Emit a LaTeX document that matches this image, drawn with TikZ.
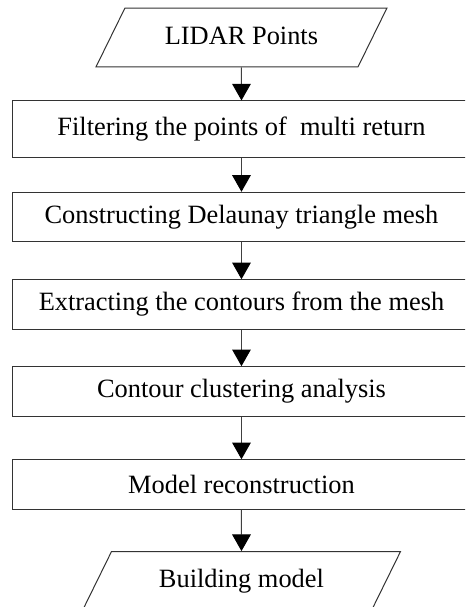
\documentclass[tikz,border=0pt]{standalone}
\usepackage{fontspec}
\setmainfont{Liberation Serif}
\usetikzlibrary{arrows.meta, positioning, shapes.geometric}

\tikzset{
    stepbox/.style={rectangle, draw=black!80, line width=0.75pt,
        minimum width=343.8pt, minimum height=37pt, inner sep=0pt},
    databox/.style={trapezium, trapezium left angle=63.8,
        trapezium right angle=116.2, trapezium stretches body=true,
        draw=black!80, line width=0.75pt, text height=14pt, text depth=4pt,
        inner xsep=0pt, inner ysep=13.1pt},
}

\begin{document}
\begin{tikzpicture}[
    ->,
    >={Triangle[width=14pt, length=12.5pt, color=black]},
    font=\fontsize{19.8pt}{24pt}\selectfont,
    node distance=65.6pt,
    on grid,
]
    \useasboundingbox (0,0) rectangle (348.75pt,-455.25pt);
    \clip (0,0) rectangle (348.75pt,-455.25pt);

    \node[databox, minimum width=218.25pt]              (lidar)    at (181.1pt,-28.1pt) {LIDAR Points};
    \node[stepbox, minimum height=42.75pt, below=69pt of lidar] (filter)   {Filtering the points of~ multi return};
    \node[stepbox, below=of filter]                      (delaunay) {Constructing Delaunay triangle mesh};
    \node[stepbox, below=of delaunay]                    (contours) {Extracting the contours from the mesh};
    \node[stepbox, below=65.2pt of contours]             (cluster)  {Contour clustering analysis};
    \node[stepbox, below=69.8pt of cluster]              (model)    {Model reconstruction};
    \node[databox, minimum width=238.5pt, below=72.5pt of model] (building) {Building model};

    \path[draw=black!75, line width=0.75pt]
        (lidar)    edge (filter)
        (filter)   edge (delaunay)
        (delaunay) edge (contours)
        (contours) edge (cluster)
        (cluster)  edge (model)
        (model)    edge (building)
    ;
\end{tikzpicture}
\end{document}
